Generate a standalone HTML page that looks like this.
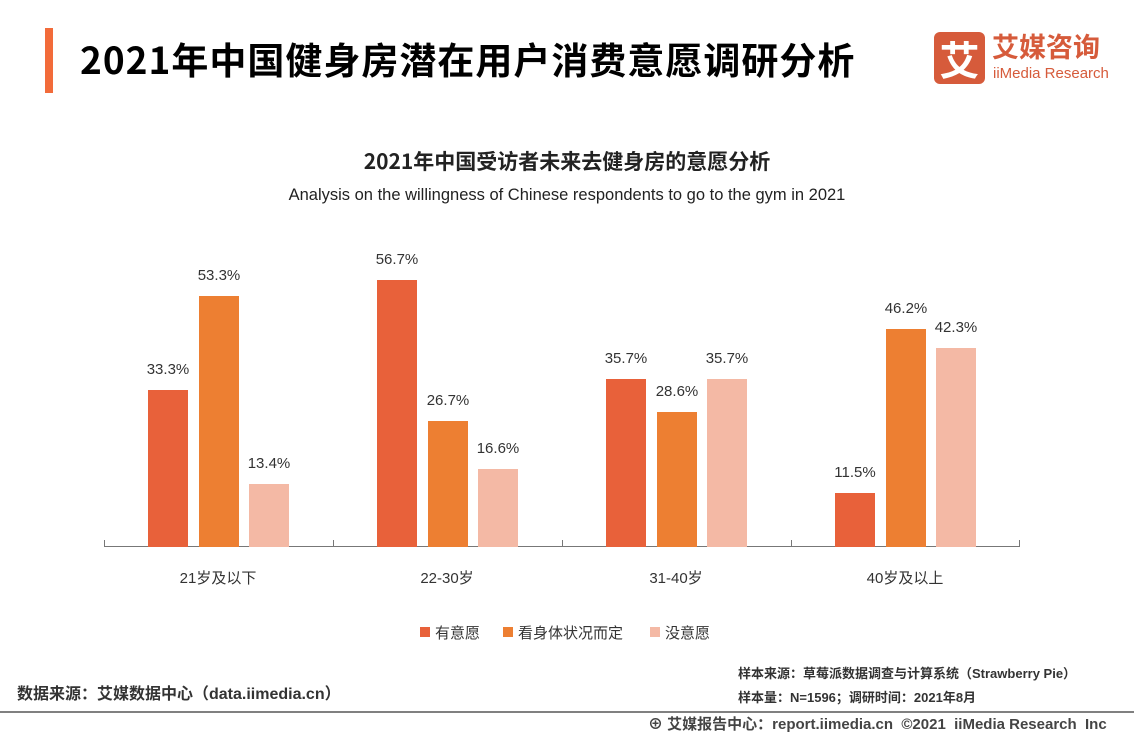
<!DOCTYPE html>
<html><head><meta charset="utf-8"><style>
body{margin:0;width:1134px;height:737px;background:#fff;position:relative;overflow:hidden;font-family:"Liberation Sans","Noto Sans CJK SC",sans-serif;}
.a{position:absolute;white-space:nowrap;}
.bar{position:absolute;width:40px;}
.c1{background:#e8613a}.c2{background:#ed7f32}.c3{background:#f4b9a5}
.v{position:absolute;width:80px;text-align:center;font-size:15px;color:#333;}
.xl{position:absolute;width:160px;text-align:center;font-size:15px;color:#333;top:567px;}
</style></head><body>
<div class="a" style="left:45px;top:28px;width:8px;height:65px;background:#f26b3a"></div>
<div class="a" style="left:80px;top:34px;font-size:37px;letter-spacing:1px;font-weight:bold;color:#000;font-family:'Noto Sans CJK SC',sans-serif;line-height:48px">2021年中国健身房潜在用户消费意愿调研分析</div>
<div class="a" style="left:934px;top:32px;width:51px;height:52px;background:#d65b3b;border-radius:6px;color:#fff;font-size:40px;line-height:52px;text-align:center;font-family:'Noto Sans CJK SC',sans-serif;font-weight:bold">艾</div>
<div class="a" style="left:992px;top:28px;font-size:27px;font-weight:bold;color:#d65b3b;font-family:'Noto Sans CJK SC',sans-serif;line-height:36px">艾媒咨询</div>
<div class="a" style="left:993px;top:65px;font-size:15px;color:#d65b3b;line-height:18px">iiMedia Research</div>

<div class="a" style="left:0;width:1134px;text-align:center;top:147px;font-size:21px;font-weight:bold;color:#222;font-family:'Noto Sans CJK SC',sans-serif;line-height:28px">2021年中国受访者未来去健身房的意愿分析</div>
<div class="a" style="left:0;width:1134px;text-align:center;top:185px;font-size:16.5px;color:#222;line-height:20px">Analysis on the willingness of Chinese respondents to go to the gym in 2021</div>

<div class="a" style="left:104px;top:546px;width:916px;height:1px;background:#777"></div>
<div class="a" style="left:104px;top:540px;width:1px;height:7px;background:#777"></div>
<div class="a" style="left:333px;top:540px;width:1px;height:7px;background:#777"></div>
<div class="a" style="left:562px;top:540px;width:1px;height:7px;background:#777"></div>
<div class="a" style="left:791px;top:540px;width:1px;height:7px;background:#777"></div>
<div class="a" style="left:1019px;top:540px;width:1px;height:7px;background:#777"></div>

<div class="bar c1" style="left:148px;top:390px;height:157px"></div>
<div class="bar c2" style="left:199px;top:296px;height:251px"></div>
<div class="bar c3" style="left:249px;top:484px;height:63px"></div>
<div class="v" style="left:128px;top:361px">33.3%</div>
<div class="v" style="left:179px;top:267px">53.3%</div>
<div class="v" style="left:229px;top:455px">13.4%</div>

<div class="bar c1" style="left:377px;top:280px;height:267px"></div>
<div class="bar c2" style="left:428px;top:421px;height:126px"></div>
<div class="bar c3" style="left:478px;top:469px;height:78px"></div>
<div class="v" style="left:357px;top:251px">56.7%</div>
<div class="v" style="left:408px;top:392px">26.7%</div>
<div class="v" style="left:458px;top:440px">16.6%</div>

<div class="bar c1" style="left:606px;top:379px;height:168px"></div>
<div class="bar c2" style="left:657px;top:412px;height:135px"></div>
<div class="bar c3" style="left:707px;top:379px;height:168px"></div>
<div class="v" style="left:586px;top:350px">35.7%</div>
<div class="v" style="left:637px;top:383px">28.6%</div>
<div class="v" style="left:687px;top:350px">35.7%</div>

<div class="bar c1" style="left:835px;top:493px;height:54px"></div>
<div class="bar c2" style="left:886px;top:329px;height:218px"></div>
<div class="bar c3" style="left:936px;top:348px;height:199px"></div>
<div class="v" style="left:815px;top:464px">11.5%</div>
<div class="v" style="left:866px;top:300px">46.2%</div>
<div class="v" style="left:916px;top:319px">42.3%</div>

<div class="xl" style="left:138px">21岁及以下</div>
<div class="xl" style="left:367px">22-30岁</div>
<div class="xl" style="left:596px">31-40岁</div>
<div class="xl" style="left:825px">40岁及以上</div>

<div class="a" style="left:420px;top:627px;width:10px;height:10px;background:#e8613a"></div>
<div class="a" style="left:435px;top:622px;font-size:15px;color:#333">有意愿</div>
<div class="a" style="left:503px;top:627px;width:10px;height:10px;background:#ed7f32"></div>
<div class="a" style="left:518px;top:622px;font-size:15px;color:#333">看身体状况而定</div>
<div class="a" style="left:650px;top:627px;width:10px;height:10px;background:#f4b9a5"></div>
<div class="a" style="left:665px;top:622px;font-size:15px;color:#333">没意愿</div>

<div class="a" style="left:17px;top:680px;font-size:16px;font-weight:bold;color:#333">数据来源：艾媒数据中心（data.iimedia.cn）</div>
<div class="a" style="left:738px;top:663px;font-size:13px;font-weight:bold;color:#333">样本来源：草莓派数据调查与计算系统（Strawberry Pie）</div>
<div class="a" style="left:738px;top:687px;font-size:13px;font-weight:bold;color:#333">样本量：N=1596；调研时间：2021年8月</div>
<div class="a" style="left:0;top:711px;width:1134px;height:2px;background:#808080"></div>
<div class="a" style="left:648px;top:713px;font-size:15px;font-weight:bold;color:#444">⊕ 艾媒报告中心：report.iimedia.cn &nbsp;©2021 &nbsp;iiMedia Research &nbsp;Inc</div>
</body></html>
